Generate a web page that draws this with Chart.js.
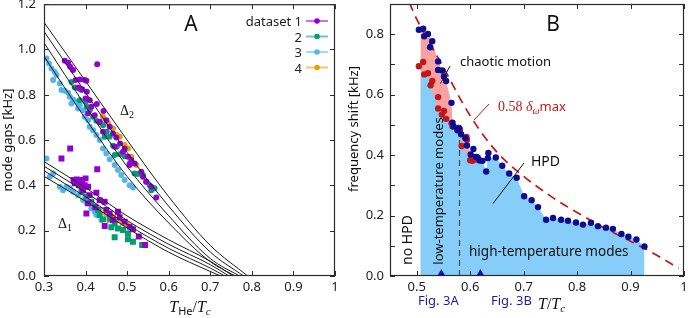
<!DOCTYPE html>
<html>
<head>
<meta charset="utf-8">
<script src="https://cdn.jsdelivr.net/npm/chart.js@4.4.1/dist/chart.umd.min.js"></script>
<style>
html, body { margin: 0; padding: 0; background: #fff; }
#wrap { position: relative; width: 688px; height: 318px; }
canvas { position: absolute; top: 0; }
#panelA { left: 0; }
#panelB { left: 344px; }
</style>
</head>
<body>
<div id="wrap">
<canvas id="panelA" width="344" height="318"></canvas>
<canvas id="panelB" width="344" height="318"></canvas>
</div>
<script>
// ---------- panel A : mode gaps ----------
var aXTicks = [0.3, 0.4, 0.5, 0.6, 0.7, 0.8, 0.9, 1.0];
var aXLabels = ['0.3', '0.4', '0.5', '0.6', '0.7', '0.8', '0.9', '1'];
var aYTicks = [0, 0.2, 0.4, 0.6, 0.8, 1.0, 1.2];
var aYLabels = ['0.0', '0.2', '0.4', '0.6', '0.8', '1.0', '1.2'];
var setNames = ['dataset 1', '2', '3', '4'];
var setColors = ['#9400d3', '#009e73', '#56b4e9', '#e69f00'];
var setLineColors = ['rgba(148,0,211,0.55)', 'rgba(0,158,115,0.55)', 'rgba(86,180,233,0.55)', 'rgba(230,159,0,0.55)'];

// Delta_2 (circles)
var gap2Set1 = [[0.350,0.950],[0.358,0.941],[0.363,0.924],[0.370,0.909],[0.376,0.865],[0.386,0.868],[0.398,0.865],[0.402,0.862],[0.382,0.832],[0.392,0.824],[0.403,0.813],[0.400,0.784],[0.410,0.776],[0.414,0.747],[0.427,0.759],[0.428,0.935],[0.406,0.718],[0.422,0.710],[0.443,0.729],[0.434,0.681],[0.450,0.688],[0.458,0.659],[0.442,0.637],[0.466,0.629],[0.474,0.612],[0.483,0.585],[0.470,0.571],[0.494,0.563],[0.490,0.549],[0.502,0.526],[0.510,0.512],[0.518,0.497],[0.506,0.490],[0.534,0.460],[0.538,0.438],[0.546,0.416],[0.558,0.394],[0.570,0.347]];
var gap2Set2 = [[0.366,0.857],[0.374,0.832],[0.384,0.828],[0.390,0.821],[0.386,0.776],[0.400,0.769],[0.403,0.747],[0.410,0.732],[0.418,0.703],[0.426,0.685],[0.434,0.679],[0.442,0.666],[0.451,0.637],[0.458,0.615],[0.446,0.615],[0.466,0.575],[0.475,0.571],[0.470,0.534],[0.482,0.538],[0.494,0.529],[0.506,0.497],[0.518,0.453],[0.526,0.450],[0.538,0.446],[0.546,0.416],[0.554,0.401],[0.558,0.379],[0.566,0.387]];
var gap2Set3 = [[0.306,0.960],[0.312,0.938],[0.318,0.916],[0.326,0.901],[0.330,0.887],[0.322,0.865],[0.338,0.850],[0.342,0.821],[0.350,0.818],[0.358,0.809],[0.362,0.791],[0.370,0.779],[0.378,0.769],[0.366,0.762],[0.386,0.754],[0.382,0.740],[0.394,0.732],[0.398,0.703],[0.406,0.688],[0.410,0.659],[0.418,0.644],[0.426,0.622],[0.434,0.600],[0.442,0.563],[0.450,0.541],[0.458,0.515],[0.470,0.490],[0.478,0.468],[0.486,0.446],[0.494,0.424],[0.506,0.401],[0.514,0.391]];
var gap2Set4 = [[0.442,0.703],[0.454,0.674],[0.466,0.651],[0.475,0.622],[0.482,0.615],[0.494,0.578],[0.502,0.563],[0.510,0.526],[0.522,0.490]];

// Delta_1 (squares, set 3 drawn as circles)
var gap1Set1 = [[0.342,0.519],[0.363,0.563],[0.428,0.471],[0.371,0.424],[0.379,0.426],[0.386,0.416],[0.392,0.424],[0.400,0.431],[0.374,0.409],[0.384,0.401],[0.398,0.401],[0.406,0.394],[0.394,0.379],[0.410,0.357],[0.426,0.368],[0.434,0.335],[0.446,0.328],[0.406,0.321],[0.424,0.303],[0.450,0.291],[0.458,0.276],[0.478,0.284],[0.482,0.259],[0.466,0.247],[0.494,0.240],[0.506,0.218],[0.514,0.206],[0.446,0.221],[0.528,0.174],[0.543,0.137],[0.402,0.276]];
var gap1Set2 = [[0.390,0.372],[0.402,0.350],[0.414,0.328],[0.422,0.306],[0.434,0.269],[0.442,0.250],[0.458,0.254],[0.470,0.232],[0.462,0.215],[0.478,0.210],[0.490,0.203],[0.502,0.188],[0.470,0.171],[0.502,0.162],[0.514,0.151],[0.536,0.137],[0.430,0.291]];
var gap1Set3 = [[0.306,0.519],[0.314,0.438],[0.322,0.453],[0.338,0.394],[0.346,0.379],[0.354,0.394],[0.362,0.387],[0.370,0.372],[0.382,0.357],[0.394,0.335],[0.403,0.321],[0.414,0.299],[0.426,0.269],[0.438,0.247],[0.422,0.284]];
var gap1Set4 = [[0.434,0.291],[0.450,0.276],[0.466,0.262],[0.478,0.247],[0.490,0.235],[0.498,0.225],[0.510,0.210],[0.458,0.247]];

// fit curves
var gap2Fits = [
  [[0.3,1.12],[0.4,0.86],[0.5,0.60],[0.6,0.35],[0.7,0.135],[0.79,0]],
  [[0.3,1.08],[0.4,0.81],[0.5,0.545],[0.6,0.308],[0.7,0.106],[0.78,0]],
  [[0.3,1.03],[0.4,0.75],[0.5,0.483],[0.6,0.266],[0.7,0.077],[0.77,0]],
  [[0.3,0.97],[0.4,0.694],[0.5,0.439],[0.6,0.234],[0.7,0.063],[0.76,0]]
];
var gap1Fits = [
  [[0.3,0.505],[0.4,0.39],[0.5,0.265],[0.6,0.16],[0.7,0.065],[0.755,0]],
  [[0.3,0.485],[0.4,0.37],[0.5,0.245],[0.6,0.14],[0.7,0.05],[0.745,0]],
  [[0.3,0.465],[0.4,0.35],[0.5,0.228],[0.6,0.122],[0.7,0.035],[0.735,0]],
  [[0.3,0.44],[0.4,0.33],[0.5,0.212],[0.6,0.105],[0.7,0.02],[0.725,0]]
];

// ---------- panel B : frequency shift ----------
var bXTicks = [0.5, 0.6, 0.7, 0.8, 0.9, 1.0];
var bXLabels = ['0.5', '0.6', '0.7', '0.8', '0.9', '1'];
var bYTicks = [0, 0.1, 0.2, 0.3, 0.4, 0.5, 0.6, 0.7, 0.8, 0.9];
var bYLabels = ['0.0', '', '0.2', '', '0.4', '', '0.6', '', '0.8', ''];

var shiftUpper = [[0.504,0.815],[0.512,0.818],[0.514,0.793],[0.521,0.801],[0.525,0.757],[0.529,0.777],[0.540,0.710],[0.540,0.682],[0.548,0.680],[0.551,0.660],[0.555,0.645],[0.565,0.573],[0.567,0.507],[0.569,0.495],[0.579,0.490],[0.576,0.482],[0.583,0.469],[0.591,0.456],[0.594,0.432],[0.601,0.402],[0.606,0.420],[0.611,0.394],[0.614,0.392],[0.618,0.382],[0.623,0.381],[0.630,0.346],[0.633,0.390],[0.634,0.407],[0.648,0.392],[0.660,0.365],[0.673,0.339],[0.687,0.325],[0.701,0.264],[0.715,0.251],[0.727,0.228],[0.742,0.186],[0.755,0.192],[0.770,0.186],[0.783,0.183],[0.798,0.177],[0.811,0.170],[0.826,0.176],[0.839,0.165],[0.854,0.160],[0.867,0.156],[0.883,0.139],[0.896,0.130],[0.911,0.121],[0.926,0.098]];
var shiftLower = [[0.504,0.694],[0.512,0.708],[0.514,0.667],[0.521,0.671],[0.526,0.631],[0.529,0.645],[0.540,0.592],[0.540,0.554],[0.547,0.534],[0.551,0.546],[0.555,0.520],[0.565,0.506],[0.567,0.495],[0.581,0.485],[0.584,0.430],[0.593,0.460],[0.594,0.451],[0.600,0.383],[0.604,0.381],[0.609,0.385]];
var hpdEdge = [[0.507,0.66],[0.514,0.667],[0.521,0.671],[0.526,0.631],[0.540,0.554],[0.547,0.534],[0.555,0.52],[0.565,0.506],[0.567,0.495],[0.581,0.485],[0.584,0.43],[0.600,0.383],[0.609,0.385],[0.618,0.382],[0.623,0.381],[0.630,0.346],[0.633,0.390],[0.648,0.392],[0.660,0.365],[0.673,0.339],[0.687,0.325],[0.701,0.264],[0.715,0.251],[0.727,0.228],[0.742,0.186],[0.755,0.192],[0.770,0.186],[0.783,0.183],[0.798,0.177],[0.811,0.170],[0.826,0.176],[0.839,0.165],[0.854,0.160],[0.867,0.156],[0.883,0.139],[0.896,0.130],[0.911,0.121],[0.926,0.098]];
var chaosEdge = [[0.507,0.815],[0.512,0.818],[0.521,0.801],[0.529,0.777],[0.540,0.710],[0.548,0.680],[0.555,0.645],[0.565,0.573],[0.567,0.507],[0.579,0.490],[0.591,0.456],[0.601,0.402],[0.609,0.386]];
var maxShift = [[0.486,0.905],[0.5,0.85],[0.55,0.69],[0.6,0.53],[0.65,0.41],[0.7,0.33],[0.75,0.265],[0.8,0.21],[0.85,0.16],[0.9,0.115],[0.95,0.068],[0.99,0.025]];
var modeDivider = [[0.58,0],[0.58,0.465]];
var figMarks = [0.546, 0.619];

function pts(a) {
  return a.map(function(p) { return {x: p[0], y: p[1]}; });
}

function vtext(ctx, s, cx, cy) {
  ctx.save();
  ctx.translate(cx, cy);
  ctx.rotate(-Math.PI / 2);
  ctx.textAlign = 'center';
  ctx.textBaseline = 'middle';
  ctx.fillText(s, 0, 0);
  ctx.restore();
}

// draws a row of differently styled pieces, starting at x (or centred on x)
function runs(ctx, x, y, parts, centre) {
  ctx.textAlign = 'left';
  ctx.textBaseline = 'alphabetic';
  if (centre) {
    var w = 0;
    parts.forEach(function(p) { ctx.font = p[1]; w += ctx.measureText(p[0]).width; });
    x -= w / 2;
  }
  parts.forEach(function(p) {
    ctx.font = p[1];
    ctx.fillText(p[0], x, y + (p[2] || 0));
    x += ctx.measureText(p[0]).width;
  });
}

function seg(ctx, x1, y1, x2, y2, col) {
  ctx.strokeStyle = col;
  ctx.lineWidth = 1;
  ctx.beginPath();
  ctx.moveTo(x1, y1);
  ctx.lineTo(x2, y2);
  ctx.stroke();
}

var SANS = '"Noto Sans"';
var SERIF = '"Liberation Serif"';

// frame with inward ticks on all four sides
var boxTicks = {
  id: 'boxTicks',
  afterDraw: function(chart) {
    var ctx = chart.ctx, a = chart.chartArea, sx = chart.scales.x, sy = chart.scales.y;
    var L = 5;
    ctx.save();
    ctx.strokeStyle = '#2b2b2b';
    ctx.lineWidth = 1;
    ctx.beginPath();
    sx.ticks.forEach(function(t) {
      var px = Math.round(sx.getPixelForValue(t.value)) + 0.5;
      ctx.moveTo(px, a.bottom); ctx.lineTo(px, a.bottom - L);
      ctx.moveTo(px, a.top); ctx.lineTo(px, a.top + L);
    });
    sy.ticks.forEach(function(t) {
      var py = Math.round(sy.getPixelForValue(t.value)) + 0.5;
      ctx.moveTo(a.left, py); ctx.lineTo(a.left + L, py);
      ctx.moveTo(a.right, py); ctx.lineTo(a.right - L, py);
    });
    ctx.stroke();
    ctx.lineWidth = 1.2;
    ctx.strokeRect(a.left + 0.5, a.top + 0.5, a.right - a.left - 1, a.bottom - a.top - 1);
    ctx.restore();
  }
};

function axes(xmin, xmax, ymin, ymax, xt, xl, yt, yl, yWidth, yPad) {
  return {
    x: {
      type: 'linear', min: xmin, max: xmax,
      grid: { display: false, drawTicks: false }, border: { display: false },
      afterBuildTicks: function(s) { s.ticks = xt.map(function(v) { return {value: v}; }); },
      ticks: { padding: 3, color: '#222', maxRotation: 0, autoSkip: false,
        font: { family: 'Noto Sans', size: 13 },
        callback: function(v, i) { return xl[i]; } },
      afterFit: function(s) { s.height = 42; s.paddingLeft = 0; s.paddingRight = 0; }
    },
    y: {
      type: 'linear', min: ymin, max: ymax,
      grid: { display: false, drawTicks: false }, border: { display: false },
      afterBuildTicks: function(s) { s.ticks = yt.map(function(v) { return {value: v}; }); },
      ticks: { padding: yPad, color: '#222', autoSkip: false,
        font: { family: 'Noto Sans', size: 13 },
        callback: function(v, i) { return yl[i]; } },
      afterFit: function(s) { s.width = yWidth; s.paddingTop = 0; s.paddingBottom = 0; }
    }
  };
}

// ---------- build panel A ----------
var aSets = [];
gap2Fits.concat(gap1Fits).forEach(function(f) {
  aSets.push({ data: pts(f), borderColor: '#1c1c1c', borderWidth: 1, pointRadius: 0,
    cubicInterpolationMode: 'monotone', fill: false, order: 0 });
});
var circ = [gap2Set1, gap2Set2, gap2Set3, gap2Set4];
var squ = [gap1Set1, gap1Set2, gap1Set3, gap1Set4];
for (var i = 0; i < 4; i++) {
  aSets.push({ data: pts(circ[i]), showLine: false, pointStyle: 'circle', pointRadius: 3,
    backgroundColor: setColors[i], borderWidth: 0, order: 1 + i });
  aSets.push({ data: pts(squ[i]), showLine: false, pointStyle: i == 2 ? 'circle' : 'rect',
    pointRadius: i == 2 ? 3 : 4.2, backgroundColor: setColors[i], borderWidth: 0, order: 1 + i });
}

var notesA = {
  id: 'notesA',
  afterDraw: function(chart) {
    var ctx = chart.ctx;
    ctx.save();
    ctx.fillStyle = '#111';
    ctx.font = '21px ' + SANS;
    ctx.textAlign = 'center';
    ctx.textBaseline = 'middle';
    ctx.fillText('A', 191, 25);

    // legend
    setNames.forEach(function(name, k) {
      var yb = 26 + k * 15.5;
      ctx.fillStyle = '#222';
      ctx.font = '13px ' + SANS;
      ctx.textAlign = 'right';
      ctx.textBaseline = 'alphabetic';
      ctx.fillText(name, 302, yb);
      ctx.strokeStyle = setLineColors[k];
      ctx.lineWidth = 2;
      ctx.beginPath(); ctx.moveTo(306, yb - 5); ctx.lineTo(328, yb - 5); ctx.stroke();
      ctx.fillStyle = setColors[k];
      ctx.beginPath(); ctx.arc(317, yb - 5, 2.8, 0, 2 * Math.PI); ctx.fill();
    });

    ctx.fillStyle = '#111';
    runs(ctx, 120, 115, [['\u0394', '14px ' + SERIF], ['2', '10px ' + SERIF, 3]]);
    runs(ctx, 58, 228, [['\u0394', '14px ' + SERIF], ['1', '10px ' + SERIF, 3]]);

    ctx.font = '13px ' + SANS;
    vtext(ctx, 'mode gaps [kHz]', 8, 140);

    runs(ctx, 190, 312, [['T', 'italic 16px ' + SERIF], ['He', '11px ' + SANS, 3],
      ['/', '16px ' + SERIF], ['T', 'italic 16px ' + SERIF], ['c', 'italic 11px ' + SERIF, 3]], true);
    ctx.restore();
  }
};

new Chart(document.getElementById('panelA').getContext('2d'), {
  type: 'line',
  data: { datasets: aSets },
  options: {
    responsive: false, animation: false, devicePixelRatio: 1, events: [],
    layout: { padding: { top: 4, right: 9, left: 0, bottom: 0 } },
    plugins: { legend: { display: false }, tooltip: { enabled: false } },
    scales: axes(0.3, 1.0, 0, 1.2, aXTicks, aXLabels, aYTicks, aYLabels, 44, 8)
  },
  plugins: [boxTicks, notesA]
});

// ---------- build panel B ----------
var bSets = [
  { data: pts(shiftUpper), showLine: false, pointRadius: 3.2, backgroundColor: '#0c0c92', borderWidth: 0, order: 0 },
  { data: pts(shiftLower), showLine: false, pointRadius: 3.2, backgroundColor: '#c01818', borderWidth: 0, order: 1 },
  { data: pts(maxShift), borderColor: '#c81414', borderWidth: 1.7, borderDash: [9, 6], pointRadius: 0,
    cubicInterpolationMode: 'monotone', fill: false, order: 2 },
  { data: pts(modeDivider), borderColor: '#4a4a4a', borderWidth: 1.2, borderDash: [6, 4], pointRadius: 0, fill: false, order: 3 },
  { data: pts(hpdEdge), borderColor: 'transparent', borderWidth: 0, pointRadius: 0,
    backgroundColor: '#87cdf9', fill: 'origin', order: 4 },
  { data: pts(chaosEdge), borderColor: 'transparent', borderWidth: 0, pointRadius: 0,
    backgroundColor: '#f8a2a2', fill: 'origin', order: 5 }
];

var notesB = {
  id: 'notesB',
  afterDraw: function(chart) {
    var ctx = chart.ctx, sx = chart.scales.x, sy = chart.scales.y;
    ctx.save();

    // Fig. 3 markers on the axis
    ctx.fillStyle = '#12129a';
    var base = sy.getPixelForValue(0);
    figMarks.forEach(function(v) {
      var px = sx.getPixelForValue(v);
      ctx.beginPath();
      ctx.moveTo(px - 4, base); ctx.lineTo(px + 4, base); ctx.lineTo(px, base - 7);
      ctx.closePath(); ctx.fill();
    });

    ctx.fillStyle = '#111';
    ctx.font = '21px ' + SANS;
    ctx.textAlign = 'center';
    ctx.textBaseline = 'middle';
    ctx.fillText('B', 209, 25);

    ctx.textAlign = 'left';
    ctx.textBaseline = 'alphabetic';
    ctx.font = '13px ' + SANS;
    ctx.fillText('chaotic motion', 116, 66);
    seg(ctx, 106, 66, 96.5, 83.5, '#111');

    ctx.font = '14px ' + SANS;
    ctx.fillText('HPD', 187, 166);
    seg(ctx, 180, 163, 149, 203.5, '#111');

    ctx.font = '13.5px ' + SANS;
    ctx.fillText('high-temperature modes', 125, 256);

    ctx.font = '14px ' + SANS;
    vtext(ctx, 'no HPD', 64, 240);
    ctx.font = '13px ' + SANS;
    vtext(ctx, 'low-temperature modes', 95.5, 191);

    ctx.font = '13px ' + SANS;
    vtext(ctx, 'frequency shift [kHz]', 10, 129);

    ctx.fillStyle = '#c81414';
    runs(ctx, 154, 111, [['0.58 ', '14px ' + SERIF], ['\u03b4', 'italic 14px ' + SERIF],
      ['\u03c9', 'italic 10px ' + SERIF, 3], ['max', '13px ' + SANS]]);
    seg(ctx, 145, 104, 130, 120, '#c81414');

    ctx.fillStyle = '#1c1ca8';
    ctx.font = '13px ' + SANS;
    ctx.fillText('Fig. 3A', 74, 305);
    ctx.fillText('Fig. 3B', 147, 305);

    ctx.fillStyle = '#111';
    runs(ctx, 194, 309, [['T', 'italic 16px ' + SERIF], ['/', '16px ' + SERIF],
      ['T', 'italic 16px ' + SERIF], ['c', 'italic 11px ' + SERIF, 3]]);
    ctx.restore();
  }
};

new Chart(document.getElementById('panelB').getContext('2d'), {
  type: 'line',
  data: { datasets: bSets },
  options: {
    responsive: false, animation: false, devicePixelRatio: 1, events: [],
    layout: { padding: { top: 4, right: 3, left: 0, bottom: 0 } },
    plugins: { legend: { display: false }, tooltip: { enabled: false } },
    scales: axes(0.45, 1.0, 0, 0.9, bXTicks, bXLabels, bYTicks, bYLabels, 46, 6)
  },
  plugins: [boxTicks, notesB]
});
</script>
</body>
</html>
